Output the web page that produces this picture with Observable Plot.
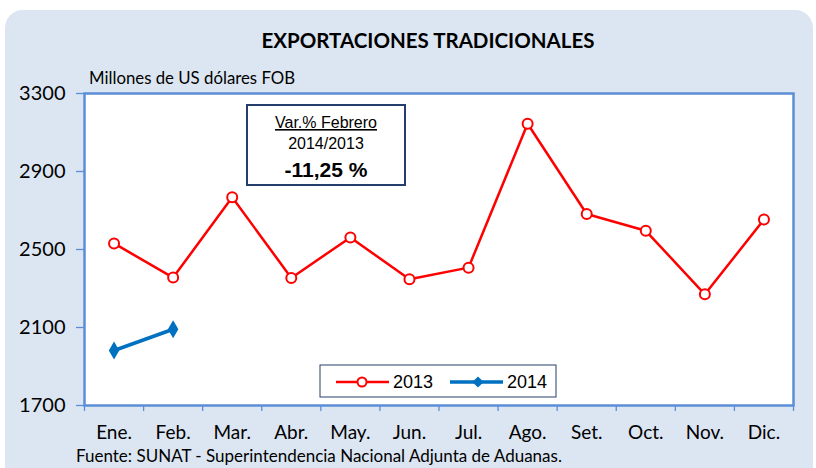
<!DOCTYPE html>
<html><head><meta charset="utf-8">
<script src="https://cdn.jsdelivr.net/npm/d3@7"></script>
<script src="https://cdn.jsdelivr.net/npm/@observablehq/plot@0.6"></script>
<style>body{margin:0;background:#fff}</style>
</head><body><div id="chart"></div>
<script>
const months = ["Ene.", "Feb.", "Mar.", "Abr.", "May.", "Jun.", "Jul.", "Ago.", "Set.", "Oct.", "Nov.", "Dic."];
const values2013 = [2531, 2356, 2768, 2354, 2562, 2347, 2407, 3145, 2682, 2596, 2270, 2654];
const values2014 = [1982, 2091];
const yTicks = [1700, 2100, 2500, 2900, 3300];
const seriesNames = ["2013", "2014"];
const titleText = "EXPORTACIONES TRADICIONALES";
const unitText = "Millones de US dólares FOB";
const sourceText = "Fuente: SUNAT - Superintendencia Nacional Adjunta de Aduanas.";
const noteLines = ["Var.% Febrero", "2014/2013", "-11,25 %"];

const data2013 = values2013.map((v, i) => ({i: i + 0.5, v}));
const data2014 = values2014.map((v, i) => ({i: i + 0.5, v}));

const axisBlue = "#5b8ed6";
const red = "#ff0000";
const blue = "#0070c0";

const plot = Plot.plot({
  width: 816, height: 468,
  marginLeft: 84, marginRight: 23, marginTop: 93, marginBottom: 63,
  style: {fontFamily: "Lato", fontSize: "19px", color: "#000", background: "transparent", overflow: "visible"},
  x: {type: "linear", domain: [0, 12]},
  y: {domain: [1700, 3300]},
  marks: [
    Plot.frame({fill: "white"}),
    Plot.axisY({ticks: yTicks, tickSize: 8, tickPadding: 11, stroke: axisBlue, fill: "#000", strokeWidth: 1.3, fontSize: 20, label: null, tickFormat: d => String(d)}),
    Plot.axisX({ticks: d3.range(0, 13), tickSize: 6, tickFormat: () => "", stroke: axisBlue, strokeWidth: 1.3, label: null}),
    Plot.axisX({ticks: months.map((m, i) => i + 0.5), tickSize: 0, tickPadding: 20, fill: "#000", tickFormat: d => months[Math.floor(d)], label: null}),
    Plot.line(data2013, {x: "i", y: "v", stroke: red, strokeWidth: 2.5}),
    Plot.dot(data2013, {x: "i", y: "v", r: 5, fill: "white", stroke: red, strokeWidth: 2}),
    Plot.line(data2014, {x: "i", y: "v", stroke: blue, strokeWidth: 3.5}),
    Plot.dot(data2014, {x: "i", y: "v", symbol: "diamond", r: 5.5, fill: blue}),
    Plot.frame({stroke: axisBlue, strokeWidth: 2.5})
  ]
});

document.getElementById("chart").append(plot);
const svg = d3.select(plot);

// background panel
svg.insert("rect", ":first-child")
  .attr("x", 5).attr("y", 10).attr("width", 808).attr("height", 500).attr("rx", 18)
  .attr("fill", "#dce6f2");

// title
svg.append("text").attr("x", 428).attr("y", 48).attr("text-anchor", "middle")
  .style("font-family", "Lato").style("font-weight", "bold").style("font-size", "20.5px")
  .attr("fill", "#000").text(titleText);

svg.append("text").attr("x", 89).attr("y", 84).attr("text-anchor", "start")
  .style("font-family", "Lato").style("font-size", "16.8px").attr("fill", "#000").text(unitText);

svg.append("text").attr("x", 76).attr("y", 462).attr("text-anchor", "start")
  .style("font-family", "Lato").style("font-size", "17px").attr("fill", "#000").text(sourceText);

// annotation box
const note = svg.append("g");
note.append("rect").attr("x", 247).attr("y", 105).attr("width", 158).attr("height", 80)
  .attr("fill", "white").attr("stroke", "#243f6b").attr("stroke-width", 2);
note.append("text").attr("x", 326).attr("y", 128).attr("text-anchor", "middle")
  .style("font-family", "Liberation Sans").style("font-size", "16px")
  .style("text-decoration", "underline").attr("fill", "#000").text(noteLines[0]);
note.append("text").attr("x", 326).attr("y", 149).attr("text-anchor", "middle")
  .style("font-family", "Liberation Sans").style("font-size", "16px").attr("fill", "#000").text(noteLines[1]);
note.append("text").attr("x", 326).attr("y", 177).attr("text-anchor", "middle")
  .style("font-family", "Liberation Sans").style("font-size", "21px").style("font-weight", "bold")
  .attr("fill", "#000").text(noteLines[2]);

// legend
const lg = svg.append("g");
lg.append("rect").attr("x", 320).attr("y", 365).attr("width", 236).attr("height", 32)
  .attr("fill", "white").attr("stroke", "#243f6b").attr("stroke-width", 1);
lg.append("line").attr("x1", 336).attr("x2", 389).attr("y1", 382).attr("y2", 382)
  .attr("stroke", red).attr("stroke-width", 2.5);
lg.append("circle").attr("cx", 362).attr("cy", 382).attr("r", 4.5)
  .attr("fill", "white").attr("stroke", red).attr("stroke-width", 2);
lg.append("text").attr("x", 393).attr("y", 388).attr("text-anchor", "start")
  .style("font-family", "Liberation Sans").style("font-size", "18px").attr("fill", "#000").text(seriesNames[0]);
lg.append("line").attr("x1", 450).attr("x2", 503).attr("y1", 382).attr("y2", 382)
  .attr("stroke", blue).attr("stroke-width", 3.5);
lg.append("path").attr("d", d3.symbol(d3.symbolDiamond2, 80)()).attr("transform", "translate(478,382)")
  .attr("fill", blue);
lg.append("text").attr("x", 507).attr("y", 388).attr("text-anchor", "start")
  .style("font-family", "Liberation Sans").style("font-size", "18px").attr("fill", "#000").text(seriesNames[1]);
</script>
</body></html>
